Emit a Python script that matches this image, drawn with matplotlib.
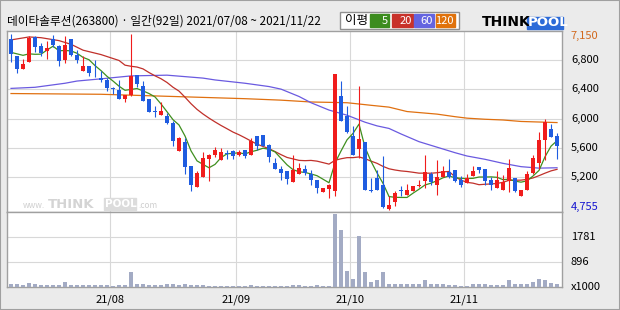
import numpy as np
import pandas as pd
import matplotlib
matplotlib.use('Agg')
import matplotlib.pyplot as plt
from matplotlib.patches import Rectangle

plt.rcParams['font.family'] = ['Noto Sans CJK KR', 'DejaVu Sans']

# daily candles 2021/07/08 ~ 2021/11/22 (92 trading days) -----
opens = [7080, 6850, 6680, 6770, 7110, 6990, 6920, 7080, 6990, 6790,
         7080, 6860, 6650, 6720, 6610, 6550, 6520, 6410, 6390, 6270,
         6320, 6590, 6440, 6260, 6100, 6050, 6040, 5940, 5560, 5680,
         5350, 5070, 5210, 5450, 5500, 5440, 5530, 5560, 5500, 5570,
         5500, 5760, 5780, 5640, 5400, 5310, 5290, 5130, 5240, 5310,
         5250, 5160, 5000, 5040, 5020, 6310, 6040, 5760, 5580, 5680,
         5030, 5190, 5100, 4770, 4870, 5020, 4960, 5020, 5080, 5150,
         5240, 5100, 5200, 5270, 5300, 5160, 5120, 5220, 5340, 5310,
         5160, 5050, 5030, 5150, 5190, 4940, 5030, 5260, 5400, 5710,
         5860, 5760]
highs = [7150, 6850, 6810, 7120, 7120, 7030, 7050, 7140, 7000, 7120,
         7080, 6930, 6850, 6720, 6790, 6640, 6550, 6430, 6520, 6320,
         7150, 6590, 6510, 6260, 6170, 6220, 6080, 5960, 5750, 5740,
         5350, 5280, 5550, 5520, 5610, 5600, 5570, 5570, 5570, 5570,
         5730, 5760, 5780, 5660, 5460, 5350, 5290, 5500, 5400, 5370,
         5300, 5160, 5060, 5110, 6610, 6510, 6170, 5900, 6440, 5680,
         5190, 5300, 5490, 4940, 5010, 5080, 5110, 5080, 5160, 5510,
         5270, 5430, 5350, 5450, 5300, 5220, 5250, 5350, 5340, 5310,
         5210, 5290, 5230, 5450, 5190, 5030, 5280, 5510, 5810, 6000,
         5930, 5800]
lows = [6770, 6620, 6670, 6770, 6900, 6850, 6810, 6980, 6720, 6750,
        6850, 6760, 6650, 6580, 6570, 6500, 6380, 6330, 6270, 6230,
        6300, 6430, 6240, 6090, 6020, 6050, 5930, 5620, 5560, 5250,
        5020, 5070, 5210, 5150, 5480, 5440, 5450, 5450, 5490, 5460,
        5500, 5570, 5630, 5410, 5310, 5160, 5110, 5130, 5240, 5230,
        5090, 4990, 5000, 4920, 4950, 5970, 5800, 5500, 5460, 5030,
        5000, 5030, 4780, 4755, 4810, 4940, 4960, 5020, 5070, 5060,
        5090, 4960, 5200, 5190, 5130, 5070, 5120, 5220, 5260, 5090,
        5030, 5050, 5030, 5000, 5000, 4940, 5030, 5250, 5310, 5440,
        5750, 5450]
closes = [6880, 6680, 6740, 7090, 6980, 6890, 6960, 7000, 6780, 7000,
          6860, 6800, 6720, 6620, 6600, 6520, 6410, 6400, 6270, 6320,
          6580, 6470, 6240, 6090, 6090, 6100, 5940, 5700, 5730, 5340,
          5090, 5260, 5460, 5500, 5570, 5550, 5520, 5490, 5540, 5490,
          5700, 5620, 5630, 5470, 5310, 5260, 5180, 5300, 5330, 5260,
          5160, 5060, 5060, 5090, 6610, 5970, 5820, 5500, 5720, 5030,
          5020, 5030, 4790, 4820, 4980, 5010, 5030, 5080, 5090, 5270,
          5130, 5200, 5280, 5210, 5150, 5090, 5190, 5290, 5300, 5150,
          5100, 5160, 5130, 5330, 5020, 5030, 5250, 5460, 5710, 5950,
          5750, 5620]
# volume, x1000 shares
volumes = [119, 119, 71, 154, 119, 71, 71, 71, 71, 190,
           83, 71, 71, 71, 71, 71, 71, 47, 71, 71,
           546, 119, 95, 71, 71, 71, 119, 95, 83, 119,
           83, 59, 71, 47, 47, 47, 47, 47, 47, 47,
           83, 47, 47, 47, 47, 47, 47, 83, 59, 47,
           47, 83, 47, 47, 2610, 2040, 581, 297, 1804, 522,
           166, 237, 522, 95, 95, 119, 95, 95, 95, 261,
           95, 119, 95, 83, 71, 47, 47, 95, 95, 95,
           71, 71, 71, 237, 119, 95, 95, 190, 297, 237,
           130, 119]

# moving averages: heads / long ones
ma5_head = [6900, 6880, 6860, 6880]
ma20_head_idx = [0, 3, 5, 8, 10, 12, 15, 18]
ma20_head = [7070, 7110, 7100, 7060, 7010, 6930, 6870, 6790]
ma60_idx = [0, 4, 9, 11, 15, 20, 26, 29, 32, 34, 39, 43, 45, 48, 50, 53,
            56, 59, 61, 63, 65, 68, 71, 74, 76, 79, 82, 85, 88, 91]
ma60_val = [6410, 6425, 6480, 6510, 6540, 6580, 6590, 6570, 6550, 6525,
            6480, 6435, 6400, 6300, 6215, 6115, 6045, 5950, 5900, 5865,
            5790, 5685, 5610, 5535, 5490, 5445, 5390, 5345, 5325, 5330]
ma120_idx = [0, 15, 31, 39, 45, 50, 56, 60, 63, 66, 71, 74, 76, 79, 82, 85, 91]
ma120_val = [6340, 6330, 6290, 6270, 6250, 6225, 6215, 6180, 6155, 6095,
             6060, 6025, 6005, 5990, 5980, 5960, 5945]

month_labels = ['21/08', '21/09', '21/10', '21/11']
month_start = [17, 38, 57, 76]
price_grid = [5200, 5600, 6000, 6400, 6800]
price_max, price_min = 7150, 4755
vol_grid = [896, 1781]

# ---- figure ----
W, H = 620, 310
fig = plt.figure(figsize=(6.2, 3.1), dpi=100, facecolor='#ebebeb')

def box(x0, y0, x1, y1):
    return [x0 / W, 1 - y1 / H, (x1 - x0) / W, (y1 - y0) / H]

ax = fig.add_axes(box(7, 31, 562, 212))
axv = fig.add_axes(box(7, 212, 562, 287), sharex=ax)

idx = np.arange(len(closes))
o, h, l, c = map(np.array, (opens, highs, lows, closes))

# moving averages
cs = pd.Series(closes, dtype=float)
ma5 = np.concatenate([ma5_head, cs.rolling(5).mean().values[4:]])
ma20_x = ma20_head_idx + list(range(19, len(closes)))
ma20_y = list(ma20_head) + list(cs.rolling(20).mean().values[19:])

ax.plot(ma120_idx, ma120_val, color='#e07010', lw=0.9, zorder=2)
ax.plot(ma60_idx, ma60_val, color='#6a5ae0', lw=0.9, zorder=2)
ax.plot(ma20_x, ma20_y, color='#c0302a', lw=0.9, zorder=2)
ax.plot(idx, ma5, color='#3f8f1f', lw=0.9, zorder=2)

# candles
up = c >= o
col = np.where(up, '#f01c1c', '#1f5ce0')
ax.vlines(idx, l, h, colors=col, lw=0.8, zorder=3)
body_lo = np.minimum(o, c)
body_h = np.maximum(np.abs(c - o), 12)
ax.bar(idx, body_h, bottom=body_lo, width=0.72, color=col, zorder=4)

# volume
axv.bar(idx, volumes, width=0.72, color='#a3abc4', zorder=3)

for a in (ax, axv):
    a.set_facecolor('white')
    a.tick_params(length=0, labelleft=False, labelbottom=False)
    a.set_xticks([])
    a.set_yticks([])
    for m in month_start:
        a.axvline(m - 0.5, color='#d8d8d8', lw=0.8, zorder=1)
    for s in a.spines.values():
        s.set_color('#a0a0a0')
        s.set_linewidth(1.0)

ax.set_xlim(-0.67, 91.83)
ax.set_ylim(4728, 7191)
axv.set_ylim(0, 2670)

for p in price_grid:
    ax.axhline(p, color='#d8d8d8', lw=0.8, zorder=1)
for v in vol_grid:
    axv.axhline(v, color='#d8d8d8', lw=0.8, zorder=1)

# right-side labels
tr = ax.get_yaxis_transform()
for p in price_grid:
    ax.text(1.016, p, f'{p:,}', transform=tr, ha='left', va='center',
            fontsize=8, color='black')
ax.text(1.016, price_max - 30, f'{price_max:,}', transform=tr, ha='left',
        va='center', fontsize=8, color='#d2691e')
ax.text(1.016, price_min + 40, f'{price_min:,}', transform=tr, ha='left',
        va='center', fontsize=8, color='#1515d0')
trv = axv.get_yaxis_transform()
for v in vol_grid:
    axv.text(1.016, v, str(v), transform=trv, ha='left', va='center', fontsize=8)
axv.text(1.016, 0, 'x1000', transform=trv, ha='left', va='center', fontsize=8)

# month labels
trx = axv.get_xaxis_transform()
for m, lab in zip(month_start, month_labels):
    axv.text(m - 0.5, -0.17, lab, transform=trx, ha='center', va='center',
             fontsize=8)

# watermark
fig.text(23 / W, 1 - 205 / H, 'www.', fontsize=6, color='#cfcfcf', va='center')
fig.text(48 / W, 1 - 204 / H, 'THINK', fontsize=9.5, fontweight='bold',
         color='#d4d4d4', va='center', family='DejaVu Sans')
fig.patches.append(Rectangle((104 / W, 1 - 210 / H), 32 / W, 12 / H,
                             transform=fig.transFigure, color='#dcdcdc', zorder=5))
fig.text(105 / W, 1 - 204 / H, 'POOL', fontsize=7.5, fontweight='bold',
         color='white', va='center', family='DejaVu Sans', zorder=6)
fig.text(138 / W, 1 - 205 / H, '.com', fontsize=6, color='#cfcfcf', va='center')

# title
fig.text(7 / W, 1 - 21 / H,
         '데이타솔루션(263800) · 일간(92일) 2021/07/08 ~ 2021/11/22',
         fontsize=8.4, ha='left', va='center')

# legend box
fig.patches.append(Rectangle((340 / W, 1 - 29 / H), 119 / W, 17 / H,
                             transform=fig.transFigure, facecolor='white',
                             edgecolor='#909090', lw=1.0))
fig.text(345 / W, 1 - 20.5 / H, '이평', fontsize=9, va='center')
legend_items = [('5', '#3c8c1e', 370, 389), ('20', '#c8322a', 392, 413),
                ('60', '#6464e0', 414, 434), ('120', '#e0720c', 436, 455)]
for lab, colr, x0, x1 in legend_items:
    fig.patches.append(Rectangle((x0 / W, 1 - 26.7 / H), (x1 - x0) / W, 12.4 / H,
                                 transform=fig.transFigure, color=colr))
    fig.text((x1 - 1) / W, 1 - 20.5 / H, lab, fontsize=8, color='white',
             ha='right', va='center')

# logo
fig.text(482 / W, 1 - 22 / H, 'THINK', fontsize=10, fontweight='bold',
         family='DejaVu Sans', va='center')
fig.patches.append(Rectangle((527 / W, 1 - 28.5 / H), 36 / W, 12 / H,
                             transform=fig.transFigure, color='#2b6ad8'))
fig.text(528 / W, 1 - 22.5 / H, 'POOL', fontsize=9.5, fontweight='bold',
         family='DejaVu Sans', color='white', va='center')

# outer frame
fig.patches.append(Rectangle((0, 0), 1, 1, transform=fig.transFigure,
                             fill=False, edgecolor='#a0a0a0', lw=1.5))

fig.savefig('out.png', dpi=100, facecolor=fig.get_facecolor())
